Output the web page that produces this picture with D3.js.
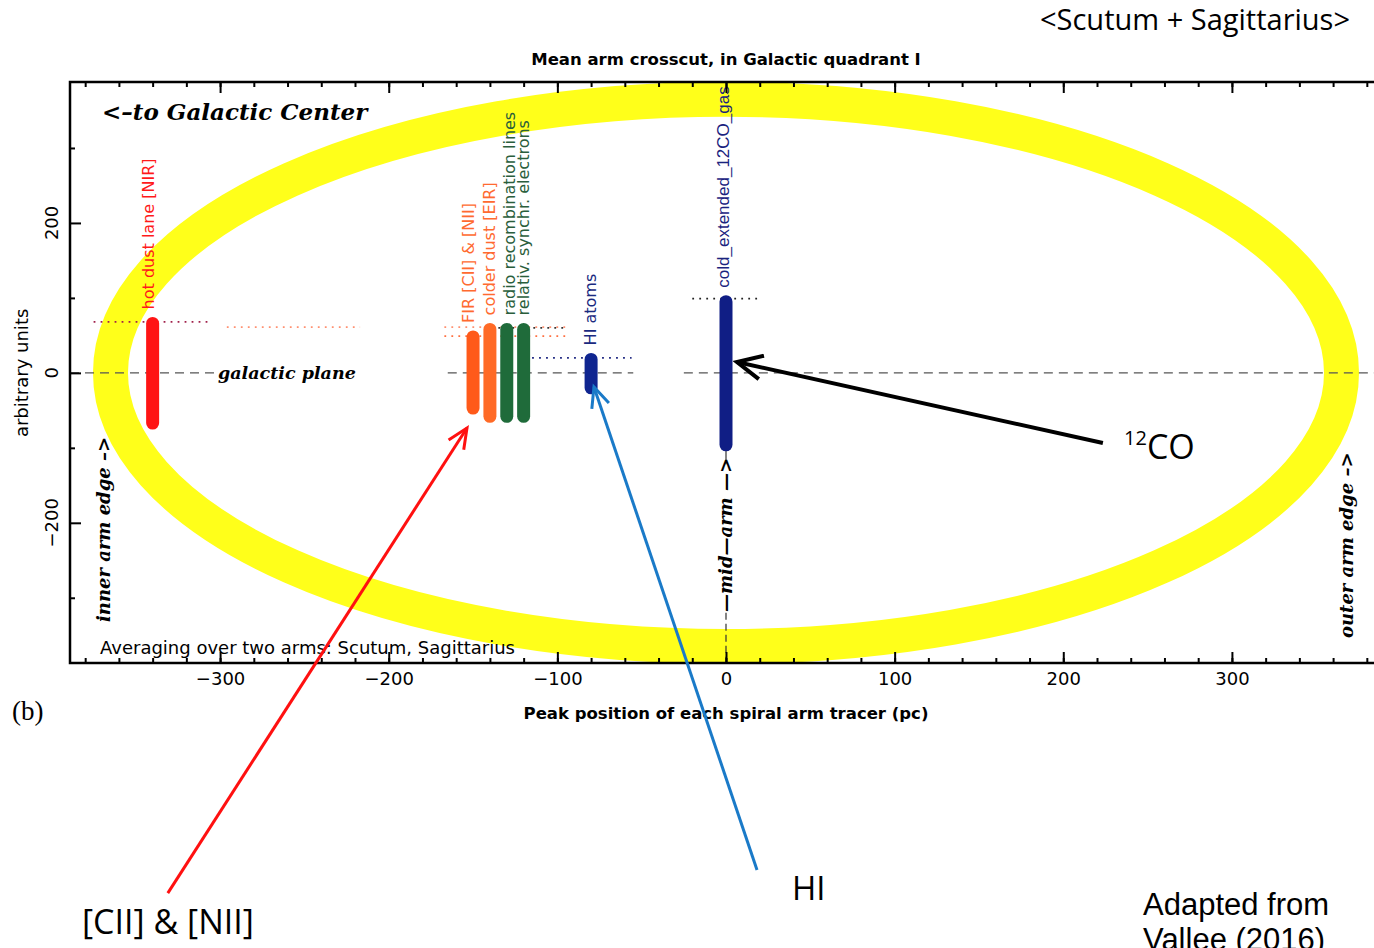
<!DOCTYPE html>
<html>
<head>
<meta charset="utf-8">
<script src="https://cdn.jsdelivr.net/npm/d3@7"></script>
<style>
  body { margin: 0; background: #fff; }
  text { font-family: "DejaVu Sans", sans-serif; }
</style>
</head>
<body>
<svg id="chart" width="1374" height="948"></svg>
<script>
'use strict'

// tracers, peak position (pc) and vertical extent (arbitrary units)
const tracers = ['hot dust lane [NIR]', 'FIR [CII] & [NII]', 'colder dust [EIR]', 'radio recombination lines', 'relativ. synchr. electrons', 'HI atoms', 'cold_extended_12CO_gas']
const peakPos = [-340, -150, -140, -130, -120, -80, 0]
const topVal = [66, 48, 58, 58, 58, 18, 95]
const bottomVal = [-67, -47, -58, -58, -58, -20, -96]
const barColors = ['#ff1414', '#ff5a1a', '#ff6a26', '#1f6b3a', '#1f6b3a', '#0f2590', '#101e85']
const labelColors = ['#ff1a1a', '#ff6a30', '#ff6a30', '#2a5e3c', '#2a5e3c', '#1a2a80', '#1a237e']

// dotted level lines
const levelY = [68, 61, 61, 49, 60, 20, 99]
const levelX0 = [-375, -296, -167, -167, -135, -115, -20]
const levelX1 = [-305, -217, -95, -95, -95, -56, 21]
const levelColors = ['#a0204a', '#ff9070', '#ff9070', '#ff7040', '#333', '#1a237e', '#222']

// galactic plane dashed pieces
const planeX0 = [-389, -165, -25]
const planeX1 = [-302, -55, 390]

const ringRadius = 365

const xTicks = [-300, -200, -100, 0, 100, 200, 300]
const xMinor = d3.range(-380, 390, 20)
const yTicks = [-200, 0, 200]
const yMinor = [-300, -100, 100, 300]

const svg = d3.select('#chart')
const x = d3.scaleLinear().domain([-389, 389]).range([70, 1382])
const y = d3.scaleLinear().domain([-387, 388]).range([663, 82])

const minus = v => v < 0 ? '\u2212' + Math.abs(v) : v

// yellow ring
svg.append('ellipse')
  .attr('cx', x(0)).attr('cy', y(0))
  .attr('rx', x(ringRadius) - x(0)).attr('ry', y(0) - y(ringRadius))
  .attr('fill', 'none').attr('stroke', '#ffff1a').attr('stroke-width', 35)

// galactic plane
planeX0.forEach((v, i) => {
  svg.append('line')
    .attr('x1', x(v)).attr('x2', x(planeX1[i]))
    .attr('y1', y(0)).attr('y2', y(0))
    .attr('stroke', '#555').attr('stroke-width', 1.4).attr('stroke-dasharray', '9,6')
})

// mid arm marker
svg.append('line')
  .attr('x1', x(0)).attr('x2', x(0))
  .attr('y1', y(-320)).attr('y2', y(-387))
  .attr('stroke', '#333').attr('stroke-width', 1.2).attr('stroke-dasharray', '7,4')
svg.append('line')
  .attr('x1', x(0)).attr('x2', x(0))
  .attr('y1', y(-100)).attr('y2', y(-122))
  .attr('stroke', '#333').attr('stroke-width', 1.2)

// dotted levels
levelY.forEach((v, i) => {
  svg.append('line')
    .attr('x1', x(levelX0[i])).attr('x2', x(levelX1[i]))
    .attr('y1', y(v)).attr('y2', y(v))
    .attr('stroke', levelColors[i]).attr('stroke-width', 1.8).attr('stroke-dasharray', '1.8,5.2')
})

// tracer bars
peakPos.forEach((p, i) => {
  svg.append('line')
    .attr('x1', x(p)).attr('x2', x(p))
    .attr('y1', y(topVal[i])).attr('y2', y(bottomVal[i]))
    .attr('stroke', barColors[i]).attr('stroke-width', 13).attr('stroke-linecap', 'round')
})

// tracer labels
const labelShift = [-4, -5, -1, 2, 0, -1, -3]
tracers.forEach((t, i) => {
  const lx = x(peakPos[i]) + labelShift[i]
  const ly = y(topVal[i]) - 14
  svg.append('text')
    .attr('transform', `translate(${lx},${ly}) rotate(-90)`)
    .attr('dy', '0.36em')
    .attr('fill', labelColors[i])
    .style('font-size', i === 6 ? '17px' : '16px')
    .style('font-family', i === 6 ? '"Liberation Sans", Arial, sans-serif' : null)
    .text(t)
})

// frame
svg.append('rect')
  .attr('x', x(-389)).attr('y', y(388))
  .attr('width', x(389) - x(-389)).attr('height', y(-387) - y(388))
  .attr('fill', 'none').attr('stroke', '#000').attr('stroke-width', 2.5)

const styleAxis = g => {
  g.select('.domain').remove()
  g.selectAll('line').attr('stroke', '#000').attr('stroke-width', 2)
}

svg.append('g').attr('transform', `translate(0,${y(-387)})`)
  .call(d3.axisBottom(x).tickValues(xMinor).tickSize(-5).tickFormat(''))
  .call(styleAxis)
svg.append('g').attr('transform', `translate(0,${y(-387)})`)
  .call(d3.axisBottom(x).tickValues(xTicks).tickSize(-11).tickPadding(9).tickFormat(minus))
  .call(styleAxis)
  .call(g => g.selectAll('text').attr('fill', '#000').style('font-size', '18px').style('font-family', '"DejaVu Sans", sans-serif'))
svg.append('g').attr('transform', `translate(0,${y(388)})`)
  .call(d3.axisTop(x).tickValues(xMinor).tickSize(-5).tickFormat(''))
  .call(styleAxis)
svg.append('g').attr('transform', `translate(0,${y(388)})`)
  .call(d3.axisTop(x).tickValues(xTicks).tickSize(-11).tickFormat(''))
  .call(styleAxis)
svg.append('g').attr('transform', `translate(${x(-389)},0)`)
  .call(d3.axisLeft(y).tickValues(yMinor).tickSize(-5).tickFormat(''))
  .call(styleAxis)
svg.append('g').attr('transform', `translate(${x(-389)},0)`)
  .call(d3.axisLeft(y).tickValues(yTicks).tickSize(-11).tickFormat(''))
  .call(styleAxis)

yTicks.forEach(v => {
  svg.append('text')
    .attr('transform', `translate(52,${y(v)}) rotate(-90)`)
    .attr('text-anchor', 'middle').attr('dy', '0.36em')
    .style('font-size', '18px')
    .text(minus(v))
})

// axis titles and plot texts
svg.append('text').attr('x', x(0)).attr('y', 65).attr('text-anchor', 'middle')
  .style('font-size', '16.5px').style('font-weight', 'bold')
  .text('Mean arm crosscut, in Galactic quadrant I')
svg.append('text').attr('x', x(0)).attr('y', 719).attr('text-anchor', 'middle')
  .style('font-size', '16.5px').style('font-weight', 'bold')
  .text('Peak position of each spiral arm tracer (pc)')
svg.append('text').attr('transform', `translate(22,${y(0)}) rotate(-90)`)
  .attr('text-anchor', 'middle').attr('dy', '0.36em')
  .style('font-size', '18px')
  .text('arbitrary units')
svg.append('text').attr('x', 100).attr('y', 654)
  .style('font-size', '18px')
  .text('Averaging over two arms: Scutum, Sagittarius')

const scriptFont = '"DejaVu Serif", "Liberation Serif", serif'
svg.append('text').attr('x', 102).attr('y', 120)
  .style('font-family', scriptFont).style('font-style', 'italic').style('font-weight', 'bold')
  .style('font-size', '23px')
  .text('<\u2013to Galactic Center')
svg.append('text').attr('x', 218).attr('y', y(0)).attr('dy', '0.36em')
  .style('font-family', scriptFont).style('font-style', 'italic').style('font-weight', 'bold')
  .style('font-size', '17.5px')
  .text('galactic plane')

const edgeText = [['inner arm edge \u2013>', 104, 622], ['outer arm edge \u2013>', 1347, 638], ['\u2014mid\u2014arm \u2014>', x(0), 612]]
edgeText.forEach(d => {
  svg.append('text')
    .attr('transform', `translate(${d[1]},${d[2]}) rotate(-90)`)
    .attr('dy', '0.36em')
    .style('font-family', scriptFont).style('font-style', 'italic').style('font-weight', 'bold')
    .style('font-size', '18px')
    .text(d[0])
})

// slide annotations
const openSans = '"Open Sans", "Noto Sans", sans-serif'
const arial = '"Liberation Sans", Arial, sans-serif'
svg.append('text').attr('x', 1350).attr('y', 30).attr('text-anchor', 'end')
  .style('font-family', openSans).style('font-size', '29px')
  .text('<Scutum + Sagittarius>')
svg.append('text').attr('x', 12).attr('y', 720)
  .style('font-family', '"Liberation Serif", serif').style('font-size', '27px')
  .text('(b)')

const co = svg.append('text').attr('x', 1124).attr('y', 459)
  .style('font-family', openSans).style('font-size', '34px')
co.append('tspan').attr('dy', -14).style('font-size', '20px').text('12')
co.append('tspan').attr('dy', 14).text('CO')
svg.append('text').attr('x', 792).attr('y', 900)
  .style('font-family', openSans).style('font-size', '33px').text('HI')
svg.append('text').attr('x', 82).attr('y', 934)
  .style('font-family', openSans).style('font-size', '34px').text('[CII] & [NII]')
svg.append('text').attr('x', 1143).attr('y', 915)
  .style('font-family', arial).style('font-size', '31px').text('Adapted from')
svg.append('text').attr('x', 1143).attr('y', 950)
  .style('font-family', arial).style('font-size', '31px').text('Vallee (2016)')

// arrows (data units: start -> tip)
const arrowFrom = [[223.5, -93.5], [-331, -694], [18.4, -663]]
const arrowTo = [[6.5, 14.5], [-153.6, -73.5], [-78.3, -18.8]]
const arrowColors = ['#000', '#ff1010', '#1a7ac8']
const arrowWidths = [4, 3, 3]

const defs = svg.append('defs')
arrowColors.forEach((c, i) => {
  defs.append('marker')
    .attr('id', 'head' + i)
    .attr('viewBox', '-28 -14 32 28')
    .attr('refX', 0).attr('refY', 0)
    .attr('markerWidth', 32).attr('markerHeight', 28)
    .attr('markerUnits', 'userSpaceOnUse')
    .attr('orient', 'auto')
    .append('path')
    .attr('d', i === 0 ? 'M-25,-12L0,0L-25,12' : 'M-20,-9L0,0L-20,9')
    .attr('fill', 'none').attr('stroke', c).attr('stroke-width', arrowWidths[i])
})
arrowFrom.forEach((a, i) => {
  svg.append('line')
    .attr('x1', x(a[0])).attr('y1', y(a[1]))
    .attr('x2', x(arrowTo[i][0])).attr('y2', y(arrowTo[i][1]))
    .attr('stroke', arrowColors[i]).attr('stroke-width', arrowWidths[i])
    .attr('marker-end', `url(#head${i})`)
})
</script>
</body>
</html>
